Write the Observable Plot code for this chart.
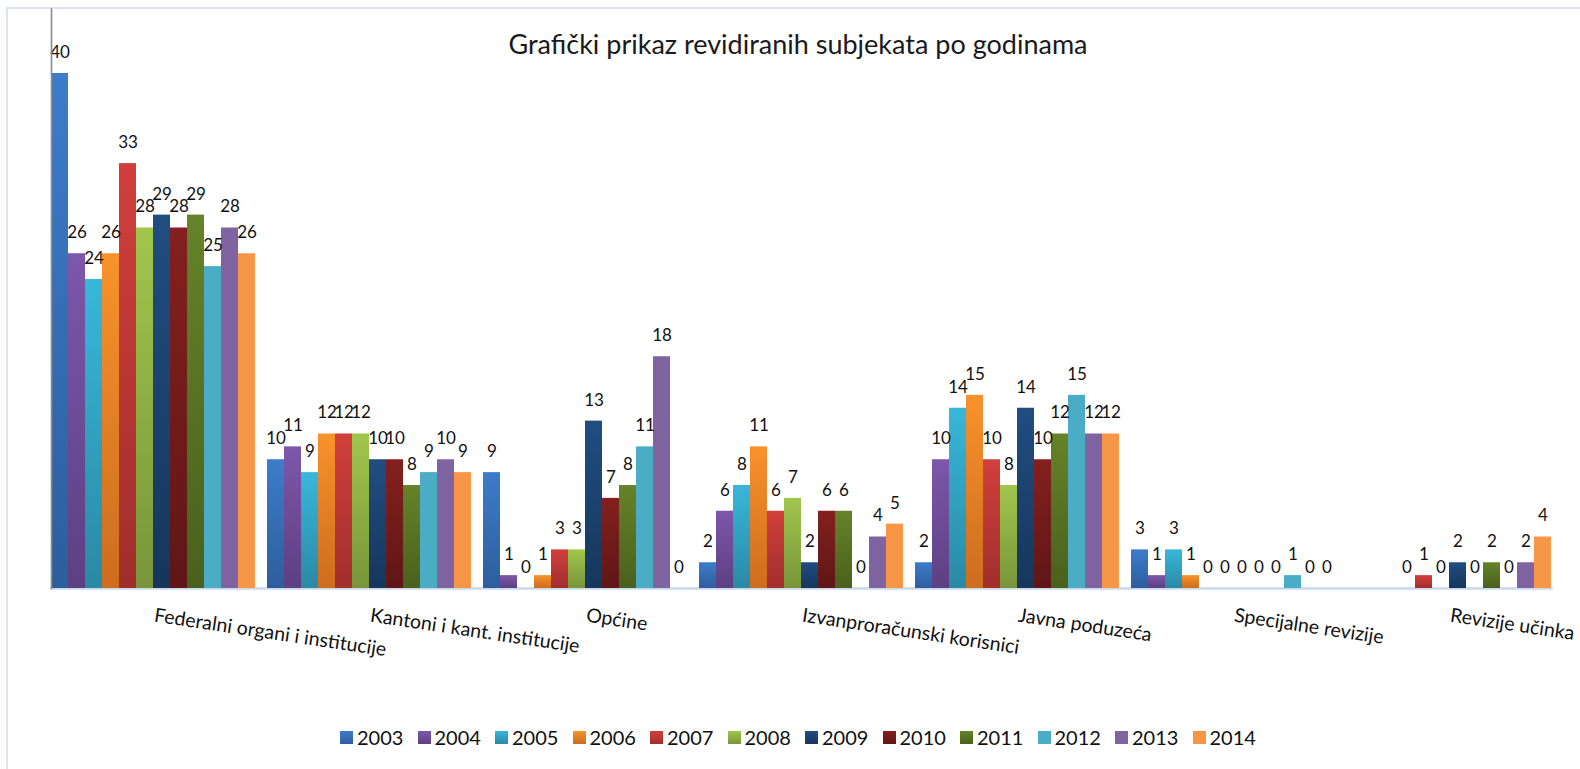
<!DOCTYPE html>
<html>
<head>
<meta charset="utf-8">
<script src="https://cdn.jsdelivr.net/npm/d3@7"></script>
<script src="https://cdn.jsdelivr.net/npm/@observablehq/plot@0.6"></script>
<style>
  html, body { margin: 0; padding: 0; background: #fff; }
  body { width: 1580px; height: 769px; overflow: hidden; position: relative; font-family: Lato, "Open Sans", sans-serif; }
  #border { position: absolute; left: 6px; top: 7px; width: 1700px; height: 900px; border: 2px solid #dae6f5; box-sizing: border-box; }
  #title { position: absolute; left: 0; top: 28px; width: 1596px; text-align: center; font-size: 27px; line-height: 32px; color: #1a1a1a; white-space: nowrap; }
  #chart { position: absolute; left: 0; top: 0; }
  #legend { position: absolute; left: 340px; top: 726px; display: flex; }
  .item { width: 77.5px; display: flex; align-items: center; height: 22px; }
  .sw { width: 13px; height: 13px; margin-right: 4px; }
  .lab { font-size: 20px; line-height: 22px; color: #111; }
</style>
</head>
<body>
<div id="border"></div>
<div id="chart"></div>
<div id="title">Grafički prikaz revidiranih subjekata po godinama</div>
<div id="legend"></div>
<svg width="0" height="0" style="position:absolute"><defs id="defs"></defs></svg>
<script>
// ---- data ----
const categories = [
  "Federalni organi i institucije",
  "Kantoni i kant. institucije",
  "Općine",
  "Izvanproračunski korisnici",
  "Javna poduzeća",
  "Specijalne revizije",
  "Revizije učinka"
];
const years = ["2003","2004","2005","2006","2007","2008","2009","2010","2011","2012","2013","2014"];

const federalniOrgani   = [40, 26, 24, 26, 33, 28, 29, 28, 29, 25, 28, 26];
const kantoni           = [10, 11, 9, 12, 12, 12, 10, 10, 8, 9, 10, 9];
const opcine            = [9, 1, 0, 1, 3, 3, 13, 7, 8, 11, 18, 0];
const izvanproracunski  = [2, 6, 8, 11, 6, 7, 2, 6, 6, 0, 4, 5];
const javnaPoduzeca     = [2, 10, 14, 15, 10, 8, 14, 10, 12, 15, 12, 12];
const specijalne        = [3, 1, 3, 1, 0, 0, 0, 0, 0, 1, 0, 0];
const revizijeUcinka    = [null, null, null, 0, 1, 0, 2, 0, 2, 0, 2, 4];

const seriesByCategory = [federalniOrgani, kantoni, opcine, izvanproracunski, javnaPoduzeca, specijalne, revizijeUcinka];

// ---- colours (top / bottom of each bar's gradient) ----
const topColors    = ["#3d7cca","#7d57ab","#38b7da","#f8922b","#d13f3c","#a1c64c","#204d81","#84201f","#658329","#4bacc6","#8064a2","#f79646"];
const bottomColors = ["#2d5e9c","#5d3f82","#2a89a4","#cd6d1e","#a02e2c","#79953a","#16365c","#5f1616","#4a601c","#4bacc6","#8064a2","#f79646"];

// gradient defs
const defs = d3.select("#defs");
years.forEach((y, i) => {
  const g = defs.append("linearGradient").attr("id", "g" + y)
    .attr("x1", 0).attr("y1", 0).attr("x2", 0).attr("y2", 1);
  g.append("stop").attr("offset", "0%").attr("stop-color", topColors[i]);
  g.append("stop").attr("offset", "100%").attr("stop-color", bottomColors[i]);
});

const rows = [];
categories.forEach((c, ci) => {
  seriesByCategory[ci].forEach((v, yi) => {
    if (v !== null) rows.push({cat: c, year: years[yi], value: v});
  });
});

const chart = Plot.plot({
  width: 1580,
  height: 769,
  marginLeft: 44,
  marginRight: 22,
  marginTop: 8.6,
  marginBottom: 181,
  style: {background: "transparent", fontFamily: "Lato, 'Open Sans', sans-serif"},
  fx: {domain: categories, axis: null, paddingInner: 0.057, paddingOuter: 0.0277},
  x: {domain: years, axis: null, padding: 0},
  y: {domain: [0, 45], axis: null},
  color: {type: "ordinal", domain: years, range: years.map(y => `url(#g${y})`)},
  marks: [
    Plot.frame({anchor: "bottom", facet: "super", stroke: "#c9d8ec", strokeWidth: 2.5}),
    Plot.barY(rows, {fx: "cat", x: "year", y: "value", fill: "year"}),
    Plot.text(rows, {fx: "cat", x: "year", y: "value", text: d => String(d.value), dy: -21, fontSize: 17, fill: "#111"}),
    Plot.text(categories, {fx: d => d, frameAnchor: "bottom", text: d => d, rotate: 8.5, textAnchor: "start", dy: 33, fontSize: 19.5, fill: "#111"}),
    Plot.frame({anchor: "left", facet: "super", stroke: "#8a8a8a", strokeWidth: 1.6})
  ]
});
document.getElementById("chart").appendChild(chart);

// legend
const legend = d3.select("#legend");
years.forEach((y, i) => {
  const it = legend.append("div").attr("class", "item");
  it.append("div").attr("class", "sw").style("background", `linear-gradient(${topColors[i]}, ${bottomColors[i]})`);
  it.append("div").attr("class", "lab").text(y);
});
</script>
</body>
</html>
